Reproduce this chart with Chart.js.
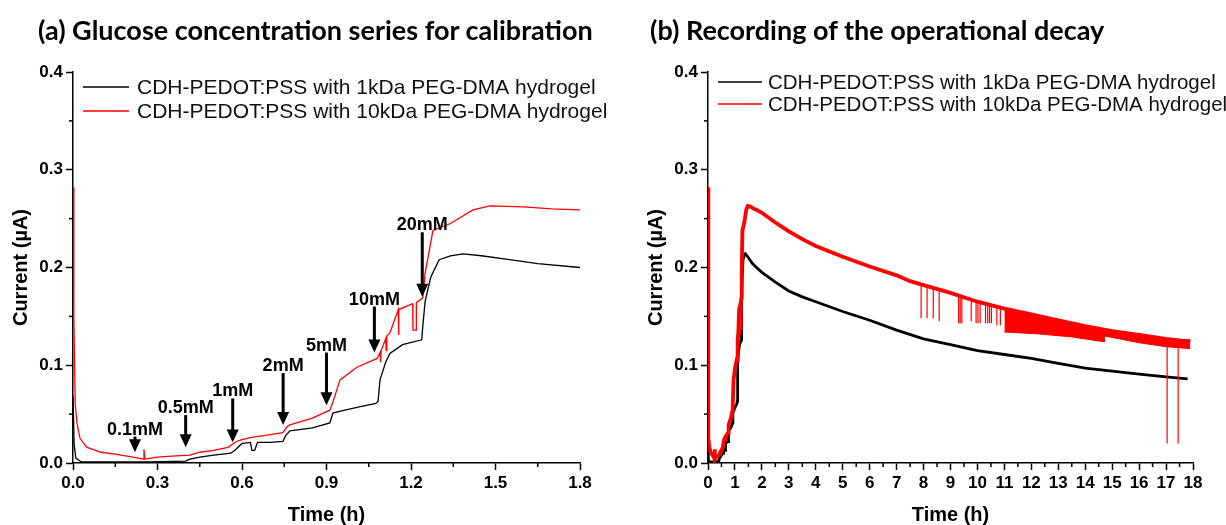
<!DOCTYPE html>
<html>
<head>
<meta charset="utf-8">
<script src="https://cdn.jsdelivr.net/npm/chart.js@4.4.0/dist/chart.umd.min.js"></script>
<style>
  body { margin: 0; background: #fff; width: 1226px; height: 525px; position: relative; overflow: hidden; }
  .panel { position: absolute; top: 0; width: 613px; height: 525px; }
  .title { position: absolute; top: 14px; font-family: Lato, sans-serif; font-weight: 700; font-size: 27px; line-height: 32px; color: #000; white-space: nowrap; }
</style>
</head>
<body>
<div class="panel" style="left:0"><canvas id="calChart" width="613" height="525"></canvas></div>
<div class="panel" style="left:613px"><canvas id="decayChart" width="613" height="525"></canvas></div>
<div class="title" style="left:38px">(a) Glucose concentration series for calibration</div>
<div class="title" style="left:650px">(b) Recording of the operational decay</div>
<script>
const seriesNames = ['CDH-PEDOT:PSS with 1kDa PEG-DMA hydrogel', 'CDH-PEDOT:PSS with 10kDa PEG-DMA hydrogel'];

// (a) calibration part, time in h, current in uA
const tBlackCal = [0, 0.004, 0.01, 0.03, 0.27, 0.4, 0.415, 0.45, 0.5, 0.56, 0.575, 0.6, 0.63, 0.635, 0.645, 0.655, 0.7, 0.745, 0.755, 0.77, 0.85, 0.912, 0.923, 0.95, 1.008, 1.075, 1.083, 1.09, 1.11, 1.125, 1.17, 1.238, 1.242, 1.25, 1.27, 1.3, 1.34, 1.385, 1.45, 1.55, 1.65, 1.8];
const iBlackCal = [0.068, 0.02, 0.005, 0.001, 0.001, 0.002, 0.004, 0.006, 0.008, 0.01, 0.013, 0.02, 0.021, 0.013, 0.013, 0.021, 0.021, 0.022, 0.028, 0.033, 0.036, 0.041, 0.051, 0.053, 0.057, 0.061, 0.063, 0.085, 0.103, 0.112, 0.121, 0.126, 0.14, 0.165, 0.19, 0.208, 0.212, 0.214, 0.212, 0.208, 0.204, 0.2];
const tRedCal = [0, 0.003, 0.008, 0.014, 0.025, 0.05, 0.1, 0.15, 0.213, 0.25, 0.252, 0.255, 0.3, 0.35, 0.415, 0.45, 0.5, 0.55, 0.58, 0.6, 0.63, 0.7, 0.745, 0.76, 0.77, 0.85, 0.912, 0.92, 0.948, 1.008, 1.08, 1.09, 1.092, 1.094, 1.11, 1.112, 1.114, 1.125, 1.155, 1.156, 1.157, 1.19, 1.206, 1.207, 1.218, 1.219, 1.242, 1.25, 1.278, 1.34, 1.42, 1.48, 1.6, 1.7, 1.8];
const iRedCal = [0.282, 0.15, 0.06, 0.041, 0.025, 0.016, 0.011, 0.009, 0.006, 0.004, 0.014, 0.004, 0.006, 0.007, 0.008, 0.011, 0.013, 0.016, 0.022, 0.024, 0.026, 0.029, 0.031, 0.037, 0.039, 0.046, 0.054, 0.06, 0.085, 0.098, 0.107, 0.113, 0.103, 0.115, 0.127, 0.115, 0.13, 0.133, 0.157, 0.131, 0.157, 0.161, 0.163, 0.136, 0.136, 0.164, 0.169, 0.194, 0.238, 0.245, 0.259, 0.263, 0.262, 0.26, 0.259];

// glucose additions (arrows)
const doseLabels = ['0.1mM', '0.5mM', '1mM', '2mM', '5mM', '10mM', '20mM'];
const doseTime = [0.22, 0.40, 0.567, 0.746, 0.9, 1.07, 1.24];
const doseFrom = [0.027, 0.049, 0.066, 0.092, 0.113, 0.16, 0.236];
const doseTo = [0.011, 0.016, 0.021, 0.039, 0.059, 0.113, 0.17];

// (b) rest of the recording
const tBlackDecay = [2, 2.5, 3, 3.5, 4, 5, 6, 7, 8, 9, 10, 11, 12, 13, 14, 15, 16, 17, 17.8];
const iBlackDecay = [0.195, 0.185, 0.176, 0.17, 0.165, 0.155, 0.146, 0.136, 0.127, 0.121, 0.115, 0.111, 0.107, 0.102, 0.097, 0.094, 0.091, 0.088, 0.086];
const tRedDecay = [2, 2.5, 3, 3.5, 4, 5, 6, 7, 7.5, 8, 9, 10, 11, 12, 13, 14, 15, 16, 17, 17.9];
const iRedDecay = [0.256, 0.246, 0.237, 0.229, 0.222, 0.211, 0.201, 0.192, 0.186, 0.182, 0.174, 0.165, 0.158, 0.152, 0.146, 0.14, 0.135, 0.131, 0.127, 0.124];

// downward spikes on the 10kDa trace
const spikeTime = [7.91, 8.13, 8.36, 8.58, 9.3, 9.36, 9.42, 9.77, 9.95, 10.02, 10.1, 10.3, 10.38, 10.45, 10.52, 10.72, 10.85, 17.04, 17.45];
const spikeTop = [0.184, 0.181, 0.179, 0.177, 0.172, 0.171, 0.171, 0.167, 0.166, 0.165, 0.164, 0.163, 0.163, 0.162, 0.162, 0.16, 0.159, 0.127, 0.125];
const spikeLow = [0.148, 0.148, 0.148, 0.145, 0.143, 0.143, 0.143, 0.145, 0.143, 0.143, 0.143, 0.143, 0.143, 0.143, 0.143, 0.141, 0.141, 0.02, 0.02];

// dense noise band at the end of the 10kDa trace
const bandTime = [11.0, 12.3, 13.5, 14.7, 14.72, 16, 17, 17.9];
const bandTop = [0.158, 0.151, 0.143, 0.137, 0.137, 0.131, 0.127, 0.126];
const bandLow = [0.134, 0.132, 0.129, 0.124, 0.130, 0.123, 0.119, 0.117];

// axis ticks
const yTicks = [0, 0.1, 0.2, 0.3, 0.4];
const xTicksCal = [0, 0.3, 0.6, 0.9, 1.2, 1.5, 1.8];
const xTicksDecay = [0, 1, 2, 3, 4, 5, 6, 7, 8, 9, 10, 11, 12, 13, 14, 15, 16, 17, 18];

const ARIAL = '"Liberation Sans", Arial, sans-serif';
const zip = (ts, vs) => ts.map((t, i) => ({ x: t, y: vs[i] }));

// minor ticks halfway between the labelled ones
const minorTicks = {
  id: 'minorTicks',
  afterDraw(chart) {
    const { ctx, chartArea: { left, bottom } } = chart;
    ctx.save();
    ctx.strokeStyle = '#000';
    ctx.lineWidth = 1.5;
    ['x', 'y'].forEach(id => {
      const s = chart.scales[id];
      const t = s.ticks.map(k => k.value);
      for (let i = 0; i < t.length - 1; i++) {
        const p = s.getPixelForValue((t[i] + t[i + 1]) / 2);
        ctx.beginPath();
        if (id === 'x') { ctx.moveTo(p, bottom); ctx.lineTo(p, bottom + 4); }
        else { ctx.moveTo(left, p); ctx.lineTo(left - 4, p); }
        ctx.stroke();
      }
    });
    ctx.restore();
  }
};

// legend drawn inside the plot area
const insideLegend = {
  id: 'insideLegend',
  afterDraw(chart, args, o) {
    const ctx = chart.ctx;
    ctx.save();
    ctx.font = o.font;
    ctx.textBaseline = 'middle';
    chart.data.datasets.slice(0, 2).forEach((d, i) => {
      const y = o.y + i * o.gap;
      ctx.strokeStyle = d.borderColor;
      ctx.lineWidth = 1.4;
      ctx.beginPath();
      ctx.moveTo(o.x, y);
      ctx.lineTo(o.x + o.len, y);
      ctx.stroke();
      ctx.fillStyle = '#111';
      ctx.fillText(d.label, o.x + o.len + o.textGap, y + 1);
    });
    ctx.restore();
  }
};

const doseArrows = {
  id: 'doseArrows',
  afterDatasetsDraw(chart) {
    const { ctx, scales: { x, y } } = chart;
    ctx.save();
    ctx.fillStyle = '#000';
    ctx.strokeStyle = '#000';
    ctx.lineWidth = 3;
    ctx.font = 'bold 18px ' + ARIAL;
    ctx.textAlign = 'center';
    doseLabels.forEach((lab, i) => {
      const px = x.getPixelForValue(doseTime[i]);
      const y0 = y.getPixelForValue(doseFrom[i]);
      const y1 = y.getPixelForValue(doseTo[i]);
      ctx.beginPath();
      ctx.moveTo(px, y0);
      ctx.lineTo(px, y1 - 10);
      ctx.stroke();
      ctx.beginPath();
      ctx.moveTo(px - 6, y1 - 13);
      ctx.lineTo(px + 6, y1 - 13);
      ctx.lineTo(px, y1);
      ctx.closePath();
      ctx.fill();
      ctx.fillText(lab, px, y0 - 2);
    });
    ctx.restore();
  }
};

function axes(xTicks, digits, yWidth, yTitlePad) {
  const tickFont = { family: ARIAL, size: 17, weight: 'bold' };
  const titleFont = { family: ARIAL, size: 20, weight: 'bold' };
  const grid = { drawOnChartArea: false, tickLength: 7, tickColor: '#000', tickWidth: 1.5 };
  return {
    x: {
      type: 'linear', min: xTicks[0], max: xTicks[xTicks.length - 1],
      afterBuildTicks: s => { s.ticks = xTicks.map(v => ({ value: v })); },
      afterFit: s => { s.height = 62; },
      border: { color: '#000', width: 1.5 },
      grid,
      ticks: { color: '#000', font: tickFont, padding: 3, maxRotation: 0, autoSkip: false, callback: v => v.toFixed(digits) },
      title: { display: true, text: 'Time (h)', color: '#000', font: titleFont, padding: { top: 0, bottom: -2 } }
    },
    y: {
      min: 0, max: 0.4,
      afterBuildTicks: s => { s.ticks = yTicks.map(v => ({ value: v })); },
      afterFit: s => { s.width = yWidth; },
      border: { color: '#000', width: 1.5 },
      grid,
      ticks: { color: '#000', font: tickFont, padding: 3, callback: v => v.toFixed(1) },
      title: { display: true, text: 'Current (µA)', color: '#000', font: titleFont, padding: { top: yTitlePad, bottom: 0 } }
    }
  };
}

function baseOptions(xTicks, digits, yWidth, yTitlePad, legend) {
  return {
    animation: false,
    responsive: false,
    spanGaps: false,
    elements: { point: { radius: 0 }, line: { tension: 0 } },
    layout: { padding: { top: 72, right: 33, bottom: 0, left: 0 } },
    plugins: { legend: { display: false }, tooltip: { enabled: false }, insideLegend: legend },
    scales: axes(xTicks, digits, yWidth, yTitlePad)
  };
}

// (a)
new Chart(document.getElementById('calChart'), {
  type: 'line',
  data: {
    datasets: [
      { label: seriesNames[0], data: zip(tBlackCal, iBlackCal), borderColor: '#000', borderWidth: 1.3, order: 1 },
      { label: seriesNames[1], data: zip(tRedCal, iRedCal), borderColor: '#ff0000', borderWidth: 1.3, order: 0 }
    ]
  },
  options: baseOptions(xTicksCal, 1, 73, 9, { x: 83, y: 87, gap: 24, len: 46, textGap: 8, font: '21px ' + ARIAL }),
  plugins: [minorTicks, insideLegend, doseArrows]
});

// (b)
const spikePts = [];
spikeTime.forEach((t, i) => {
  spikePts.push({ x: t, y: spikeTop[i] }, { x: t, y: spikeLow[i] }, { x: t, y: null });
});

new Chart(document.getElementById('decayChart'), {
  type: 'line',
  data: {
    datasets: [
      { label: seriesNames[0], data: zip(tBlackCal.concat(tBlackDecay), iBlackCal.concat(iBlackDecay)), borderColor: '#000', borderWidth: 2.8, order: 1 },
      { label: seriesNames[1], data: zip(tRedCal.concat(tRedDecay), iRedCal.concat(iRedDecay)), borderColor: '#ff0000', borderWidth: 3.8, order: 0 },
      { label: 'spikes', data: spikePts, borderColor: '#ff0000', borderWidth: 1.2, order: 0 },
      { label: 'band top', data: zip(bandTime, bandTop), borderColor: '#ff0000', borderWidth: 1, order: 2 },
      { label: 'band low', data: zip(bandTime, bandLow), borderColor: '#ff0000', borderWidth: 1, backgroundColor: '#ff0000', fill: '-1', order: 2 }
    ]
  },
  options: baseOptions(xTicksDecay, 0, 95, 31, { x: 105, y: 82, gap: 22, len: 44, textGap: 6, font: '20.5px ' + ARIAL }),
  plugins: [minorTicks, insideLegend]
});
</script>
</body>
</html>
